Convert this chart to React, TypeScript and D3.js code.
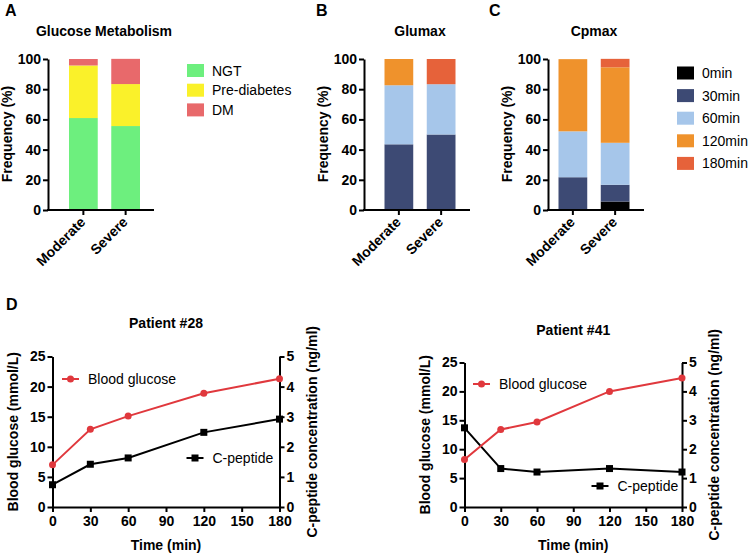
import { useEffect, useRef } from 'react';
import * as d3 from 'd3';

const FONT = '"Liberation Sans", Arial, Helvetica, sans-serif';

// ---- panels A-C: stacked frequency bars ----
const groups = ['Moderate', 'Severe'];

const metabKeys = ['NGT', 'Pre-diabetes', 'DM'];
const ngt = [60.9, 55.6];
const preDiabetes = [34.8, 27.8];
const dm = [4.3, 16.7];
const metabColors = ['#6DEF7E', '#FAF12A', '#E8696B'];

const timeKeys = ['0min', '30min', '60min', '120min', '180min'];
const timeColors = ['#000000', '#3D4A74', '#A6C6EA', '#EF922C', '#E6623A'];

// Glumax: time point of max glucose
const glumax0 = [0, 0];
const glumax30 = [43.5, 50.0];
const glumax60 = [39.1, 33.3];
const glumax120 = [17.4, 0];
const glumax180 = [0, 16.7];

// Cpmax: time point of max C-peptide
const cpmax0 = [0, 5.6];
const cpmax30 = [21.7, 11.1];
const cpmax60 = [30.4, 27.8];
const cpmax120 = [47.8, 50.0];
const cpmax180 = [0, 5.6];

const freqTicks = [0, 20, 40, 60, 80, 100];

// ---- panel D: OGTT curves ----
const timePoints = [0, 30, 60, 120, 180];
const timeTicks = [0, 30, 60, 90, 120, 150, 180];
const glucoseTicks = [0, 5, 10, 15, 20, 25];
const cpepTicks = [0, 1, 2, 3, 4, 5];

const glucose28 = [7.0, 12.9, 15.1, 18.9, 21.3];
const cpeptide28 = [0.74, 1.42, 1.63, 2.48, 2.92];
const glucose41 = [8.2, 13.4, 14.7, 20.0, 22.3];
const cpeptide41 = [2.74, 1.33, 1.21, 1.33, 1.21];

const RED = '#E0383D';

function styleAxis(g) {
  g.selectAll('path.domain').attr('stroke', '#000').attr('stroke-width', 2);
  g.selectAll('.tick line').attr('stroke', '#000').attr('stroke-width', 2);
  g.selectAll('.tick text')
    .attr('fill', '#000')
    .style('font-family', FONT)
    .style('font-size', '14px')
    .style('font-weight', 'bold');
}

function addText(svg, x, y, str, opts: any = {}) {
  const t = svg.append('text')
    .attr('x', x)
    .attr('y', y)
    .attr('text-anchor', opts.anchor || 'middle')
    .style('font-family', FONT)
    .style('font-size', (opts.size || 14) + 'px')
    .style('font-weight', opts.bold === false ? 'normal' : 'bold')
    .attr('fill', '#000')
    .text(str);
  if (opts.central) t.attr('dominant-baseline', 'central');
  return t;
}

function addVTitle(svg, x, y, str) {
  svg.append('text')
    .attr('transform', `translate(${x},${y}) rotate(-90)`)
    .attr('text-anchor', 'middle')
    .attr('dominant-baseline', 'central')
    .style('font-family', FONT)
    .style('font-size', '14px')
    .style('font-weight', 'bold')
    .text(str);
}

function drawBars(svg, p) {
  const top = 59;
  const bottom = 210;
  const y = d3.scaleLinear().domain([0, 100]).range([bottom, top]);
  const x = d3.scaleBand()
    .domain(groups)
    .range([p.barStart, p.barStart + 71])
    .paddingInner(0.32);

  const rows = groups.map((g, i) => {
    const r: any = { group: g };
    p.keys.forEach((k, j) => { r[k] = p.series[j][i]; });
    return r;
  });
  const stacked = d3.stack().keys(p.keys)(rows);

  svg.append('g')
    .selectAll('g')
    .data(stacked)
    .join('g')
    .attr('fill', (d, i) => p.colors[i])
    .selectAll('rect')
    .data(d => d)
    .join('rect')
    .attr('x', d => x(d.data.group))
    .attr('width', x.bandwidth())
    .attr('y', d => y(d[1]))
    .attr('height', d => y(d[0]) - y(d[1]));

  // y axis
  svg.append('g')
    .attr('transform', `translate(${p.axisX},0)`)
    .call(d3.axisLeft(y).tickValues(freqTicks).tickSize(5).tickSizeOuter(0).tickPadding(2))
    .call(styleAxis);

  // x axis
  const xg = svg.append('g')
    .attr('transform', `translate(0,${bottom})`)
    .call(d3.axisBottom(x).tickSize(5).tickSizeOuter(0))
    .call(styleAxis);
  xg.select('path.domain').remove();
  xg.append('line')
    .attr('x1', p.axisX - 1)
    .attr('x2', p.axisX + p.axisLen)
    .attr('stroke', '#000')
    .attr('stroke-width', 2);
  xg.selectAll('.tick text')
    .attr('x', 0)
    .attr('y', 0)
    .attr('dy', 0)
    .attr('text-anchor', 'end')
    .attr('transform', 'translate(3,13) rotate(-45)');

  addVTitle(svg, p.axisX - 41, 134, 'Frequency (%)');
  addText(svg, p.titleX, 36, p.title);
  addText(svg, p.letterX, 16, p.letter, { anchor: 'start', size: 16 });

  if (p.legend) {
    const lg = svg.append('g');
    p.keys.forEach((k, i) => {
      const cy = p.legend.y + i * p.legend.step;
      lg.append('rect')
        .attr('x', p.legend.x)
        .attr('y', cy - 6.5)
        .attr('width', 17)
        .attr('height', 13)
        .attr('fill', p.colors[i]);
      addText(lg, p.legend.x + 25, cy, k, { anchor: 'start', bold: false, central: true });
    });
  }
}

function drawLines(svg, p) {
  const x = d3.scaleLinear().domain([0, 180]).range([p.left, p.right]);
  const yL = d3.scaleLinear().domain([0, 25]).range([p.bottom, p.top]);
  const yR = d3.scaleLinear().domain([0, 5]).range([p.bottom, p.top]);

  svg.append('g')
    .attr('transform', `translate(${p.left},0)`)
    .call(d3.axisLeft(yL).tickValues(glucoseTicks).tickFormat(d3.format('d')).tickSize(5).tickSizeOuter(0).tickPadding(2))
    .call(styleAxis);
  svg.append('g')
    .attr('transform', `translate(${p.right},0)`)
    .call(d3.axisRight(yR).tickValues(cpepTicks).tickFormat(d3.format('d')).tickSize(5).tickSizeOuter(0).tickPadding(2))
    .call(styleAxis);
  svg.append('g')
    .attr('transform', `translate(0,${p.bottom})`)
    .call(d3.axisBottom(x).tickValues(timeTicks).tickFormat(d3.format('d')).tickSize(5).tickSizeOuter(0).tickPadding(4))
    .call(styleAxis);

  const glu = timePoints.map((t, i) => [t, p.glucose[i]]);
  const cp = timePoints.map((t, i) => [t, p.cpeptide[i]]);

  svg.append('path')
    .datum(cp)
    .attr('fill', 'none')
    .attr('stroke', '#000')
    .attr('stroke-width', 2)
    .attr('d', d3.line().x(d => x(d[0])).y(d => yR(d[1])));
  svg.append('g')
    .selectAll('rect')
    .data(cp)
    .join('rect')
    .attr('x', d => x(d[0]) - 3.5)
    .attr('y', d => yR(d[1]) - 3.5)
    .attr('width', 7)
    .attr('height', 7)
    .attr('fill', '#000');

  svg.append('path')
    .datum(glu)
    .attr('fill', 'none')
    .attr('stroke', RED)
    .attr('stroke-width', 2)
    .attr('d', d3.line().x(d => x(d[0])).y(d => yL(d[1])));
  svg.append('g')
    .selectAll('circle')
    .data(glu)
    .join('circle')
    .attr('cx', d => x(d[0]))
    .attr('cy', d => yL(d[1]))
    .attr('r', 3.5)
    .attr('fill', RED);

  // legends
  const bg = p.gluLegend;
  svg.append('line').attr('x1', bg[0]).attr('x2', bg[0] + 17).attr('y1', bg[1]).attr('y2', bg[1])
    .attr('stroke', RED).attr('stroke-width', 2);
  svg.append('circle').attr('cx', bg[0] + 8.5).attr('cy', bg[1]).attr('r', 3.5).attr('fill', RED);
  addText(svg, bg[0] + 26, bg[1], 'Blood glucose', { anchor: 'start', bold: false, central: true });

  const cg = p.cpLegend;
  svg.append('line').attr('x1', cg[0]).attr('x2', cg[0] + 17).attr('y1', cg[1]).attr('y2', cg[1])
    .attr('stroke', '#000').attr('stroke-width', 2);
  svg.append('rect').attr('x', cg[0] + 5).attr('y', cg[1] - 3.5).attr('width', 7).attr('height', 7).attr('fill', '#000');
  addText(svg, cg[0] + 26, cg[1], 'C-peptide', { anchor: 'start', bold: false, central: true });

  const mid = (p.left + p.right) / 2;
  addText(svg, mid, p.titleY, p.title);
  addText(svg, mid, 550, 'Time (min)');
  addVTitle(svg, p.left - 40, (p.top + p.bottom) / 2, 'Blood glucose (mmol/L)');
  addVTitle(svg, p.right + 32, (p.top + p.bottom) / 2, 'C-peptide concentration (ng/ml)');
}

const App = () => {
  const svgRef = useRef(null);

  useEffect(() => {
    const svg = d3.select(svgRef.current);
    svg.selectAll('*').remove();

    drawBars(svg, {
      letter: 'A', letterX: 5, title: 'Glucose Metabolism', titleX: 104,
      axisX: 48, axisLen: 106, barStart: 69,
      keys: metabKeys, series: [ngt, preDiabetes, dm], colors: metabColors,
      legend: { x: 187, y: 70.5, step: 19.7 },
    });
    drawBars(svg, {
      letter: 'B', letterX: 316, title: 'Glumax', titleX: 420,
      axisX: 364, axisLen: 106, barStart: 384.5,
      keys: timeKeys, series: [glumax0, glumax30, glumax60, glumax120, glumax180], colors: timeColors,
    });
    drawBars(svg, {
      letter: 'C', letterX: 489, title: 'Cpmax', titleX: 594,
      axisX: 548, axisLen: 96, barStart: 558.5,
      keys: timeKeys, series: [cpmax0, cpmax30, cpmax60, cpmax120, cpmax180], colors: timeColors,
      legend: { x: 677, y: 73, step: 22.6 },
    });

    addText(svg, 6, 310, 'D', { anchor: 'start', size: 16 });
    drawLines(svg, {
      title: 'Patient #28', titleY: 328,
      left: 52.5, right: 279.5, top: 356.5, bottom: 507,
      glucose: glucose28, cpeptide: cpeptide28,
      gluLegend: [62, 379], cpLegend: [186.5, 458],
    });
    drawLines(svg, {
      title: 'Patient #41', titleY: 335,
      left: 464.5, right: 682, top: 362.5, bottom: 507,
      glucose: glucose41, cpeptide: cpeptide41,
      gluLegend: [473, 384], cpLegend: [591.5, 486],
    });
  }, []);

  return (
    <svg
      ref={svgRef}
      width={750}
      height={554}
      style={{ position: 'absolute', left: 0, top: 0, background: '#fff' }}
    />
  );
};

export default App;
